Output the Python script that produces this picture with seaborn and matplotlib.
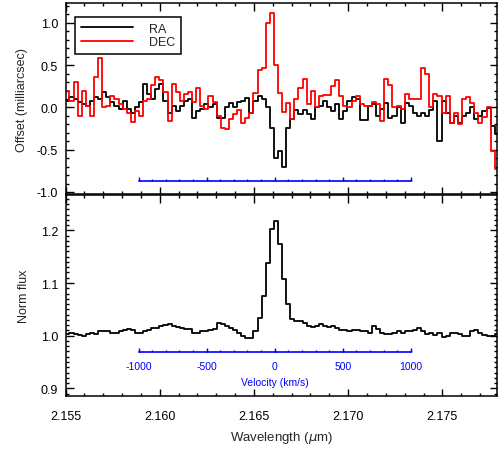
import numpy as np
import matplotlib
matplotlib.use("Agg")
import matplotlib.pyplot as plt
from matplotlib.ticker import MultipleLocator, FormatStrFormatter
import seaborn as sns

# spectral grid (linear dispersion, bin centres in micron)
WAVE_START = 2.15510
WAVE_STEP = 0.000217

# astrometric offsets (milliarcsec)
ra = [0.08, 0.12, 0.10, 0.06, 0.04, 0.02, 0.08, 0.12, 0.10, 0.18,
      0.12, 0.06, 0.02, -0.02, 0.08, -0.02, -0.06, 0.00, 0.06, 0.28,
      0.16, 0.10, 0.22, 0.28, 0.08, -0.06, 0.02, -0.04, 0.02, 0.08,
      0.10, -0.12, -0.04, -0.02, 0.04, 0.00, 0.04, -0.12, -0.12, 0.00,
      0.05, 0.00, 0.07, 0.08, 0.11, -0.06, 0.08, 0.13, 0.10, 0.00,
      -0.24, -0.60, -0.51, -0.70, -0.24, -0.14, -0.03, -0.08, -0.03, -0.08,
      -0.14, 0.01, 0.02, 0.08, 0.00, -0.04, 0.04, -0.14, -0.04, 0.08,
      0.12, 0.10, -0.15, -0.15, 0.02, 0.04, -0.10, -0.02, 0.05, -0.12,
      -0.10, 0.00, -0.18, 0.05, 0.02, -0.07, -0.10, -0.06, -0.10, -0.03,
      0.08, -0.40, 0.08, -0.06, -0.18, -0.10, -0.18, -0.10, -0.06, 0.01,
      -0.14, -0.10, -0.04, -0.01, -0.22, -0.31]

dec = [0.20, 0.08, 0.30, -0.10, 0.20, 0.02, -0.10, 0.36, 0.59, 0.00,
       0.02, 0.14, 0.10, 0.04, -0.02, -0.06, -0.17, -0.04, -0.10, 0.08,
       0.10, 0.26, 0.36, 0.32, 0.18, -0.16, 0.28, 0.18, 0.08, 0.16,
       0.18, 0.06, 0.23, 0.02, -0.02, 0.14, 0.06, -0.10, -0.24, -0.25,
       -0.14, -0.08, -0.03, -0.18, -0.12, -0.06, 0.17, 0.44, 0.47, 1.00,
       1.12, 0.50, 0.17, -0.05, 0.05, -0.14, 0.10, 0.23, 0.34, 0.04,
       0.19, 0.00, 0.14, 0.15, 0.15, 0.25, 0.32, 0.14, 0.02, 0.00,
       0.08, 0.13, 0.04, 0.02, 0.02, 0.06, 0.04, -0.16, 0.34, 0.26,
       0.00, 0.02, -0.02, 0.16, 0.10, 0.10, 0.10, 0.47, 0.39, 0.00,
       0.16, 0.13, -0.06, 0.14, -0.19, -0.07, -0.20, 0.10, 0.12, 0.05,
       -0.06, -0.18, -0.11, 0.00, -0.51, -0.73]

# normalised flux
flux = [1.003, 1.005, 1.003, 1.001, 1.000, 1.003, 1.005, 1.003, 1.008, 1.008,
        1.008, 1.006, 1.005, 1.008, 1.010, 1.013, 1.010, 1.005, 1.006, 1.009,
        1.011, 1.014, 1.015, 1.018, 1.020, 1.022, 1.018, 1.016, 1.015, 1.013,
        1.012, 1.006, 1.005, 1.008, 1.009, 1.010, 1.013, 1.025, 1.023, 1.019,
        1.014, 1.010, 1.005, 1.000, 0.995, 0.996, 1.009, 1.034, 1.076, 1.138,
        1.203, 1.217, 1.174, 1.108, 1.061, 1.032, 1.028, 1.027, 1.024, 1.018,
        1.016, 1.018, 1.022, 1.019, 1.016, 1.018, 1.014, 1.011, 1.010, 1.009,
        1.010, 1.011, 1.008, 1.009, 1.006, 1.018, 1.013, 1.005, 1.004, 1.004,
        1.005, 1.008, 1.006, 1.009, 1.008, 1.010, 1.014, 1.009, 1.003, 1.006,
        1.001, 1.005, 0.997, 1.000, 1.006, 1.005, 1.003, 1.000, 0.999, 1.008,
        1.010, 1.006, 1.001, 0.999, 1.000, 1.003]

wave = WAVE_START + WAVE_STEP * np.arange(len(flux))

# velocity scale bar (Br gamma rest wavelength)
LAMBDA0 = 2.1661
C_KMS = 299792.458
vel_major = [-1000, -500, 0, 500, 1000]
vel_minor = list(range(-1000, 1001, 100))


def vel_to_wave(v):
    return LAMBDA0 * (1.0 + np.asarray(v, dtype=float) / C_KMS)


sns.set_style("ticks")
plt.rcParams["font.family"] = ["Liberation Sans", "DejaVu Sans"]
plt.rcParams["axes.unicode_minus"] = False
plt.rcParams["axes.linewidth"] = 1.1

fig = plt.figure(figsize=(5.02, 4.52), dpi=100)
ax1 = fig.add_axes([0.1305, 0.5675, 0.8596, 0.4226])
ax2 = fig.add_axes([0.1305, 0.1223, 0.8596, 0.4451])

sns.lineplot(x=wave, y=ra, color="black", drawstyle="steps-mid", lw=1.3,
             estimator=None, ax=ax1, label="RA")
sns.lineplot(x=wave, y=dec, color="red", drawstyle="steps-mid", lw=1.3,
             estimator=None, ax=ax1, label="DEC")
sns.lineplot(x=wave, y=flux, color="black", drawstyle="steps-mid", lw=1.3,
             estimator=None, ax=ax2)


def velocity_bar(ax, ybar, hmaj, hmin, labels):
    x0, x1 = vel_to_wave([vel_minor[0], vel_minor[-1]])
    ax.plot([x0, x1], [ybar, ybar], color="blue", lw=1.2)
    ax.vlines(vel_to_wave(vel_minor), ybar, ybar + hmin, color="blue", lw=1.0)
    ax.vlines(vel_to_wave(vel_major), ybar, ybar + hmaj, color="blue", lw=1.0)
    if labels:
        for v in vel_major:
            ax.text(vel_to_wave(v), labels[0], str(v), color="blue",
                    fontsize=7.5, ha="center", va="center")
        ax.text(vel_to_wave(0), labels[1], "Velocity (km/s)", color="blue",
                fontsize=7.5, ha="center", va="center")


velocity_bar(ax1, -0.87, 0.047, 0.024, None)
velocity_bar(ax2, 0.969, 0.0076, 0.0038, (0.9424, 0.912))

for ax in (ax1, ax2):
    ax.set_xlim(2.155, 2.1779)
    ax.xaxis.set_major_locator(MultipleLocator(0.005))
    ax.xaxis.set_minor_locator(MultipleLocator(0.001))
    ax.tick_params(which="both", direction="in", top=True, right=True,
                   width=1.0, labelsize=9, colors="black")
    ax.tick_params(which="major", length=5.4)
    ax.tick_params(which="minor", length=2.2)
    ax.tick_params(axis="y", pad=5.4)
    ax.tick_params(axis="x", pad=10.5)
    for s in ax.spines.values():
        s.set_visible(True)
        s.set_color("black")

ax1.set_ylim(-1.03, 1.23)
ax1.yaxis.set_major_locator(MultipleLocator(0.5))
ax1.yaxis.set_minor_locator(MultipleLocator(0.1))
ax1.yaxis.set_major_formatter(FormatStrFormatter("%.1f"))
ax1.tick_params(axis="x", labelbottom=False)
ax1.set_xlabel("")
ax1.set_ylabel("Offset (milliarcsec)", fontsize=9)
ax1.yaxis.set_label_coords(-0.087, 0.5)

ax2.set_ylim(0.886, 1.268)
ax2.yaxis.set_major_locator(MultipleLocator(0.1))
ax2.yaxis.set_minor_locator(MultipleLocator(0.01))
ax2.yaxis.set_major_formatter(FormatStrFormatter("%.1f"))
ax2.xaxis.set_major_formatter(FormatStrFormatter("%.3f"))
ax2.set_ylabel("Norm flux", fontsize=9)
ax2.yaxis.set_label_coords(-0.082, 0.5)
ax2.set_xlabel(r"Wavelength ($\mu$m)", fontsize=9.5, va="top")
ax2.xaxis.set_label_coords(0.5, -0.1655)

leg = ax1.legend(loc="upper left", bbox_to_anchor=(0.022, 0.929),
                 borderaxespad=0, frameon=True, fancybox=False,
                 edgecolor="black", framealpha=1, fontsize=9,
                 handlelength=4.2, handletextpad=1.3, borderpad=0.45,
                 labelspacing=0.12)
leg.get_frame().set_linewidth(1.1)

fig.savefig("out.png", dpi=100)
